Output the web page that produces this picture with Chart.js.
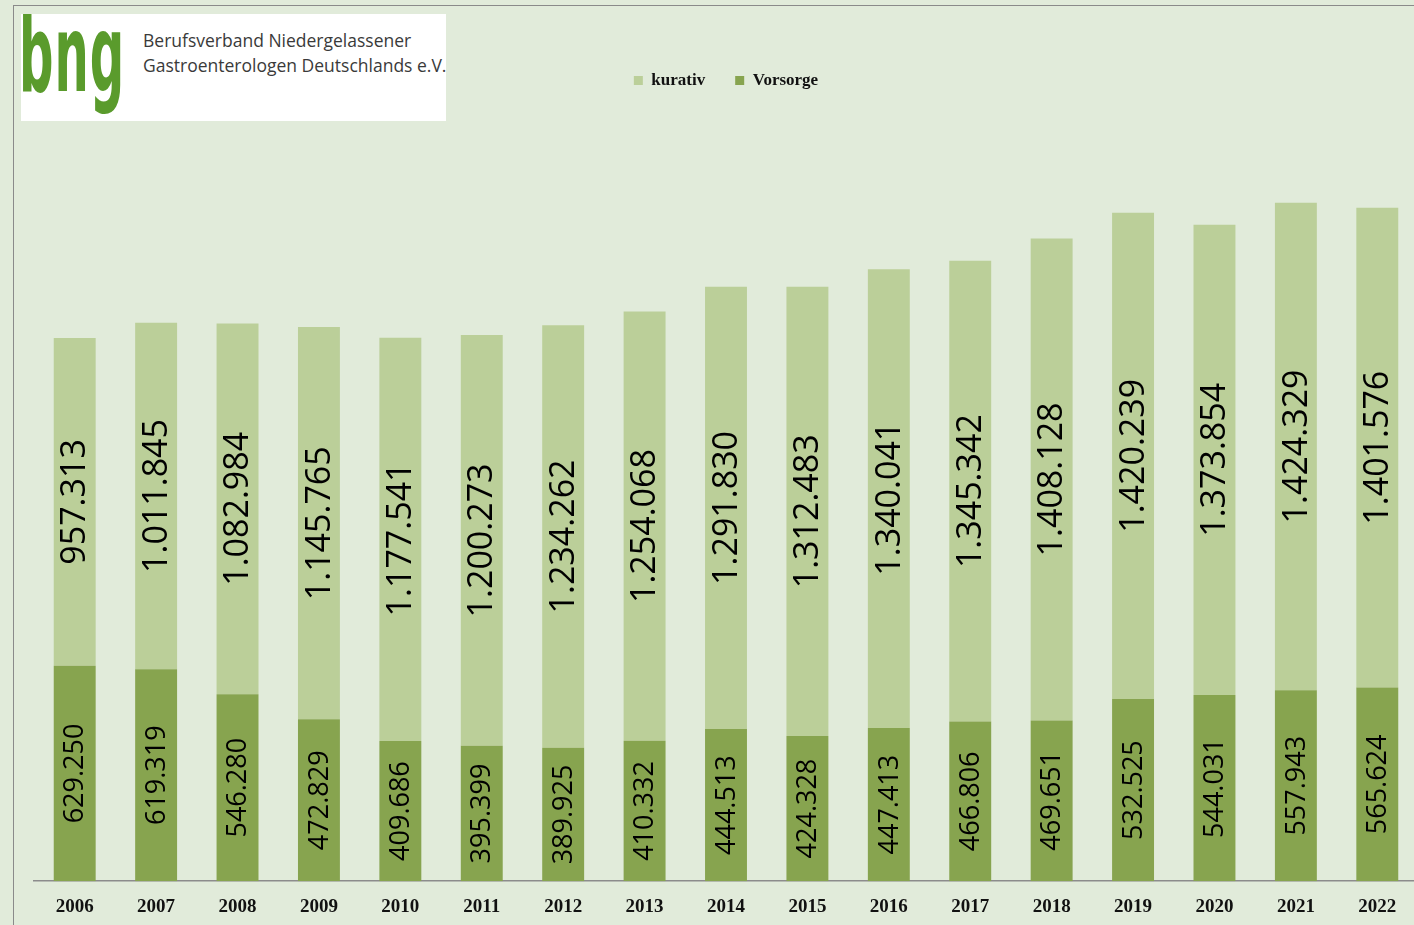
<!DOCTYPE html>
<html>
<head>
<meta charset="utf-8">
<script src="https://cdn.jsdelivr.net/npm/chart.js@4.4.0/dist/chart.umd.min.js"></script>
<style>
  html, body { margin: 0; padding: 0; background: #e1ebda; overflow: hidden; }
  #wrap { position: relative; width: 1414px; height: 925px; overflow: hidden; }
  #frame { position: absolute; left: 13px; top: 5px; width: 1420px; height: 940px;
           border-left: 1.5px solid #8a8a8a; border-top: 1.5px solid #8a8a8a; }
  #chartBox { position: absolute; left: 0; top: 0; width: 1418px; height: 932px; }
  #logo { position: absolute; left: 21px; top: 14px; width: 425px; height: 107px; background: #fff; overflow: hidden; }
  #bng { position: absolute; left: -2px; top: -13px; font-family: "DejaVu Sans Condensed", "DejaVu Sans"; font-weight: bold;
         font-size: 107px; line-height: 1; letter-spacing: 2px; color: #5a9b2c; transform: scaleX(0.5); transform-origin: left top; white-space: nowrap; }
  #org { position: absolute; left: 122px; top: 14px; font-family: "Open Sans", sans-serif; font-size: 17.5px;
         line-height: 25px; color: #3a3a3a; white-space: nowrap; }
</style>
</head>
<body>
<div id="wrap">
  <div id="chartBox"><canvas id="chart_bngKoloskopien"></canvas></div>
  <div id="frame"></div>
  <div id="logo">
    <div id="bng">bng</div>
    <div id="org">Berufsverband Niedergelassener<br>Gastroenterologen Deutschlands e.V.</div>
  </div>
</div>
<script>
const years = ['2006', '2007', '2008', '2009', '2010', '2011', '2012', '2013', '2014',
  '2015', '2016', '2017', '2018', '2019', '2020', '2021', '2022'];
const vorsorge = [629250, 619319, 546280, 472829, 409686, 395399, 389925, 410332, 444513,
  424328, 447413, 466806, 469651, 532525, 544031, 557943, 565624];
const kurativ = [957313, 1011845, 1082984, 1145765, 1177541, 1200273, 1234262, 1254068, 1291830,
  1312483, 1340041, 1345342, 1408128, 1420239, 1373854, 1424329, 1401576];

function fmt(v) {
  return String(v).replace(/\B(?=(\d{3})+(?!\d))/g, '.');
}

var chart_bngKoloskopien = new Chart(document.getElementById('chart_bngKoloskopien'), {
    type: 'bar',
    data: {
        labels: years,
        datasets: [
            {
                label: 'Vorsorge',
                data: vorsorge,
                backgroundColor: '#87a44f',
                labelFont: 27,
                barPercentage: 0.515,
                categoryPercentage: 1
            },
            {
                label: 'kurativ',
                data: kurativ,
                backgroundColor: '#bbcf99',
                labelFont: 34,
                barPercentage: 0.515,
                categoryPercentage: 1
            }
        ]
    },
    options: {
        animation: false,
        responsive: true,
        maintainAspectRatio: false,
        layout: {
            padding: { left: 34, right: 0, top: 42, bottom: 0 }
        },
        plugins: {
            tooltip: { enabled: false },
            legend: {
                display: true,
                reverse: true,
                labels: {
                    color: '#111',
                    boxWidth: 9,
                    boxHeight: 9,
                    padding: 30,
                    font: { family: 'Liberation Serif', size: 17, weight: 'bold' }
                }
            }
        },
        scales: {
            x: {
                stacked: true,
                grid: { display: false, drawTicks: false },
                border: { display: true, color: '#8c8c8c', width: 1.5 },
                ticks: {
                    color: '#111',
                    padding: 14,
                    font: { family: 'Liberation Serif', size: 19, weight: 'bold' }
                }
            },
            y: {
                stacked: true,
                display: false,
                min: 0,
                max: 2285000
            }
        }
    },
    plugins: [{
        id: 'barValues',
        afterDatasetsDraw: (chart) => {
            const ctx = chart.ctx;
            chart.data.datasets.forEach((ds, i) => {
                const meta = chart.getDatasetMeta(i);
                meta.data.forEach((bar, j) => {
                    const cy = (bar.y + bar.base) / 2;
                    ctx.save();
                    ctx.translate(bar.x, cy);
                    ctx.rotate(-Math.PI / 2);
                    ctx.fillStyle = '#000';
                    ctx.textAlign = 'center';
                    ctx.textBaseline = 'middle';
                    ctx.font = ds.labelFont + 'px "Open Sans"';
                    ctx.fillText(fmt(ds.data[j]), 0, 1);
                    ctx.restore();
                });
            });
        }
    }]
});
</script>
</body>
</html>
